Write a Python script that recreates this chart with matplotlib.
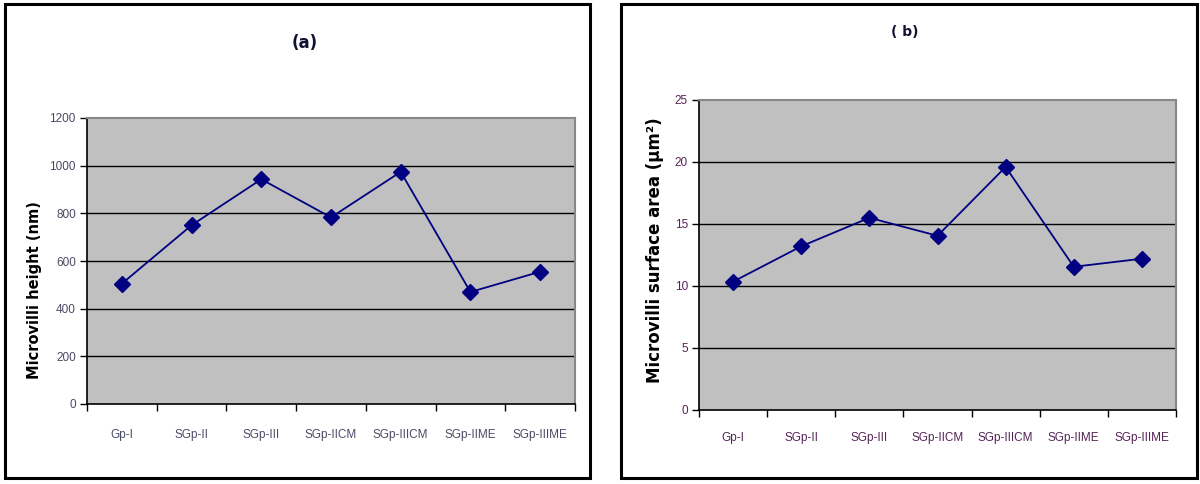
import matplotlib
matplotlib.use("Agg")
import matplotlib.pyplot as plt
from matplotlib.patches import Rectangle
from matplotlib.ticker import FixedLocator, NullFormatter

categories = ["Gp-I", "SGp-II", "SGp-III", "SGp-IICM", "SGp-IIICM", "SGp-IIME", "SGp-IIIME"]
height_nm = [505, 750, 943, 783, 974, 470, 555]
surface_area = [10.35, 13.2, 15.5, 14.05, 19.6, 11.55, 12.2]

W, H = 1200, 484
fig = plt.figure(figsize=(W / 100, H / 100), dpi=100)
fig.patch.set_facecolor("white")

def px_axes(x0, y0, x1, y1):
    return fig.add_axes([x0 / W, 1 - y1 / H, (x1 - x0) / W, (y1 - y0) / H])

# outer frames
for (x0, y0, x1, y1) in [(5, 4, 590, 478), (621, 4, 1197, 478)]:
    fig.patches.append(Rectangle((x0 / W, 1 - y1 / H), (x1 - x0) / W, (y1 - y0) / H,
                                 transform=fig.transFigure, fill=False,
                                 edgecolor="black", linewidth=2.2))

def make_panel(box, values, ymax, ystep, title, title_xy, title_size, ylabel, ylabel_xy,
               ylabel_size, tick_color, xlabel_pad):
    ax = px_axes(*box)
    ax.set_facecolor("#C0C0C0")
    n = len(values)
    xs = list(range(n))
    ax.plot(xs, values, color="#000080", linewidth=1.3, marker="D", markersize=8,
            markerfacecolor="#000080", markeredgecolor="#000080", zorder=3)
    ax.set_xlim(-0.5, n - 0.5)
    ax.set_ylim(0, ymax)
    yt = list(range(0, ymax + 1, ystep))
    ax.set_yticks(yt)
    ax.set_yticklabels([str(v) for v in yt], fontsize=8.5, color=tick_color,
                       family="Liberation Sans")
    for v in yt[1:-1]:
        ax.axhline(v, color="black", linewidth=1.0, zorder=1)
    ax.xaxis.set_major_locator(FixedLocator([i - 0.5 for i in range(n + 1)]))
    ax.xaxis.set_major_formatter(NullFormatter())
    ax.xaxis.set_minor_locator(FixedLocator(xs))
    ax.set_xticklabels(categories, minor=True, fontsize=8.5, color=tick_color,
                       family="Liberation Sans")
    ax.tick_params(axis="x", which="minor", length=0, pad=xlabel_pad)
    ax.tick_params(axis="x", which="major", length=5, width=1, direction="out")
    ax.tick_params(axis="y", length=5, width=1, direction="out", pad=3)
    for s in ["top", "right"]:
        ax.spines[s].set_color("#888888")
        ax.spines[s].set_linewidth(1.5)
    for s in ["left", "bottom"]:
        ax.spines[s].set_color("black")
        ax.spines[s].set_linewidth(1.2)
    fig.text(title_xy[0] / W, 1 - title_xy[1] / H, title, ha="center", va="center",
             fontsize=title_size, fontweight="bold", color="#111133")
    fig.text(ylabel_xy[0] / W, 1 - ylabel_xy[1] / H, ylabel, rotation=90, ha="center",
             va="center", fontsize=ylabel_size, fontweight="bold", color="black")
    return ax

make_panel((87, 118, 575, 404), height_nm, 1200, 200, "(a)", (305, 43), 12,
           "Microvilli height (nm)", (35, 290), 10.5, "#4a4a66", 18)
make_panel((699, 100, 1176, 410), surface_area, 25, 5, "( b)", (905, 32), 10,
           "Microvilli surface area (µm²)", (655, 250), 12, "#552255", 16)

fig.savefig("out.png", dpi=100, facecolor="white")
